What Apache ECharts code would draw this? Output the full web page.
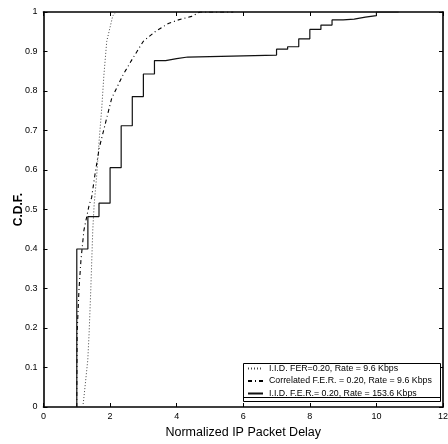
<!DOCTYPE html>
<html>
<head>
<meta charset="utf-8">
<script src="https://cdn.jsdelivr.net/npm/echarts@6/dist/echarts.min.js"></script>
<style>
  html, body { margin: 0; padding: 0; background: #fff; }
  #chart { width: 448px; height: 444px; }
</style>
</head>
<body>
<div id="chart"></div>
<script>
// Normalized delay (x) and cumulative probability (y) for each scenario.
const iidLowRateDelay = [1.18, 1.215, 1.33, 1.37, 1.42, 1.45, 1.48, 1.52, 1.60, 1.67, 1.75, 1.815, 1.90, 2.08, 2.18];
const iidLowRateCdf   = [0, 0.025, 0.119, 0.187, 0.296, 0.372, 0.448, 0.511, 0.588, 0.673, 0.757, 0.841, 0.926, 0.99, 1.0];

const corrLowRateDelay = [1.0, 1.0, 1.01, 1.065, 1.125, 1.215, 1.37, 1.445, 1.545, 1.675, 1.90, 2.05, 2.39, 2.69, 3.0, 3.35, 3.75, 4.05, 4.45, 4.7, 5.7];
const corrLowRateCdf   = [0, 0.025, 0.187, 0.296, 0.372, 0.448, 0.511, 0.53, 0.588, 0.656, 0.732, 0.782, 0.841, 0.884, 0.926, 0.95, 0.971, 0.98, 0.989, 1.0, 1.0];

const iidHighRateDelay = [1.0, 1.0, 1.333, 1.667, 2.0, 2.333, 2.667, 3.0, 3.333, 3.667, 4.0, 4.333, 7.0, 7.333, 7.667, 8.0, 8.333, 8.667, 9.0, 9.333, 9.667, 10.0, 10.667];
const iidHighRateCdf   = [0, 0.40, 0.482, 0.516, 0.606, 0.712, 0.786, 0.843, 0.877, 0.882, 0.886, 0.891, 0.906, 0.912, 0.932, 0.956, 0.967, 0.980, 0.982, 0.987, 0.991, 1.0, 1.0];

const seriesNames = [
  'I.I.D. FER=0.20, Rate = 9.6 Kbps',
  'Correlated F.E.R. = 0.20, Rate = 9.6 Kbps',
  'I.I.D. F.E.R.= 0.20, Rate = 153.6 Kbps'
];

const xTitle = 'Normalized IP Packet Delay';
const yTitle = 'C.D.F.';

const pairs = (xs, ys) => xs.map((x, i) => [x, ys[i]]);

const FONT = '"Liberation Sans", Arial, sans-serif';
const G = { left: 43.5, right: 5, top: 12, bottom: 37 };

const chart = echarts.init(document.getElementById('chart'), null, { renderer: 'canvas' });

const tickStyle = { show: true, inside: true, length: 4, lineStyle: { color: '#000', width: 1 } };
const frameLine = { show: true, onZero: false, lineStyle: { color: '#000', width: 1.6 } };

chart.setOption({
  animation: false,
  backgroundColor: '#fff',
  grid: {
    left: G.left, right: G.right, top: G.top, bottom: G.bottom,
    containLabel: false, outerBoundsMode: 'none'
  },
  xAxis: [
    {
      type: 'value', min: 0, max: 12, interval: 2, position: 'bottom',
      name: xTitle, nameLocation: 'middle', nameGap: 19, nameMoveOverlap: false,
      nameTextStyle: { fontFamily: FONT, fontSize: 12.5, color: '#000' },
      axisLine: frameLine,
      axisTick: tickStyle,
      axisLabel: { fontFamily: FONT, fontSize: 9, color: '#000', margin: 5 },
      splitLine: { show: false }
    },
    {
      type: 'value', min: 0, max: 12, interval: 2, position: 'top',
      axisLine: frameLine,
      axisTick: tickStyle,
      axisLabel: { show: false },
      splitLine: { show: false }
    }
  ],
  yAxis: [
    {
      type: 'value', min: 0, max: 1, interval: 0.1, position: 'left',
      name: yTitle, nameLocation: 'middle', nameGap: 19, nameRotate: 90, nameMoveOverlap: false,
      nameTextStyle: { fontFamily: FONT, fontSize: 12, color: '#000', fontWeight: 'bold' },
      axisLine: frameLine,
      axisTick: tickStyle,
      axisLabel: { fontFamily: FONT, fontSize: 9, color: '#000', margin: 6 },
      splitLine: { show: false }
    },
    {
      type: 'value', min: 0, max: 1, interval: 0.1, position: 'right',
      axisLine: frameLine,
      axisTick: tickStyle,
      axisLabel: { show: false },
      splitLine: { show: false }
    }
  ],
  legend: {
    orient: 'vertical',
    left: 247, top: 364,
    z: 100,
    itemWidth: 15, itemHeight: 8, itemGap: 3.5,
    padding: 0,
    itemStyle: { opacity: 0 },
    textStyle: { fontFamily: FONT, fontSize: 8.8, color: '#000', padding: [0, 0, 0, 1] },
    data: seriesNames.map(n => ({ name: n }))
  },
  series: [
    {
      name: seriesNames[0], type: 'line', xAxisIndex: 0, yAxisIndex: 0,
      data: pairs(iidLowRateDelay, iidLowRateCdf),
      showSymbol: false, symbol: 'none',
      itemStyle: { color: '#444' },
      lineStyle: { color: '#444', width: 1, type: [1, 2] }
    },
    {
      name: seriesNames[1], type: 'line', xAxisIndex: 0, yAxisIndex: 0,
      data: pairs(corrLowRateDelay, corrLowRateCdf),
      showSymbol: false, symbol: 'none',
      itemStyle: { color: '#000' },
      lineStyle: { color: '#000', width: 1.1, type: [4, 3, 1, 3] }
    },
    {
      name: seriesNames[2], type: 'line', xAxisIndex: 0, yAxisIndex: 0,
      data: pairs(iidHighRateDelay, iidHighRateCdf),
      step: 'end',
      showSymbol: false, symbol: 'none',
      itemStyle: { color: '#111' },
      lineStyle: { color: '#111', width: 1.2, type: 'solid' }
    }
  ],
  graphic: [
    {
      type: 'rect', z: 5, silent: true,
      shape: { x: 243.5, y: 363.5, width: 197, height: 38 },
      style: { fill: '#fff', stroke: '#000', lineWidth: 1 }
    },
    {
      type: 'line', z: 6, silent: true,
      shape: { x1: 243.5, y1: 397.5, x2: 440.5, y2: 397.5 },
      style: { stroke: '#000', lineWidth: 1 }
    }
  ]
});
</script>
</body>
</html>
